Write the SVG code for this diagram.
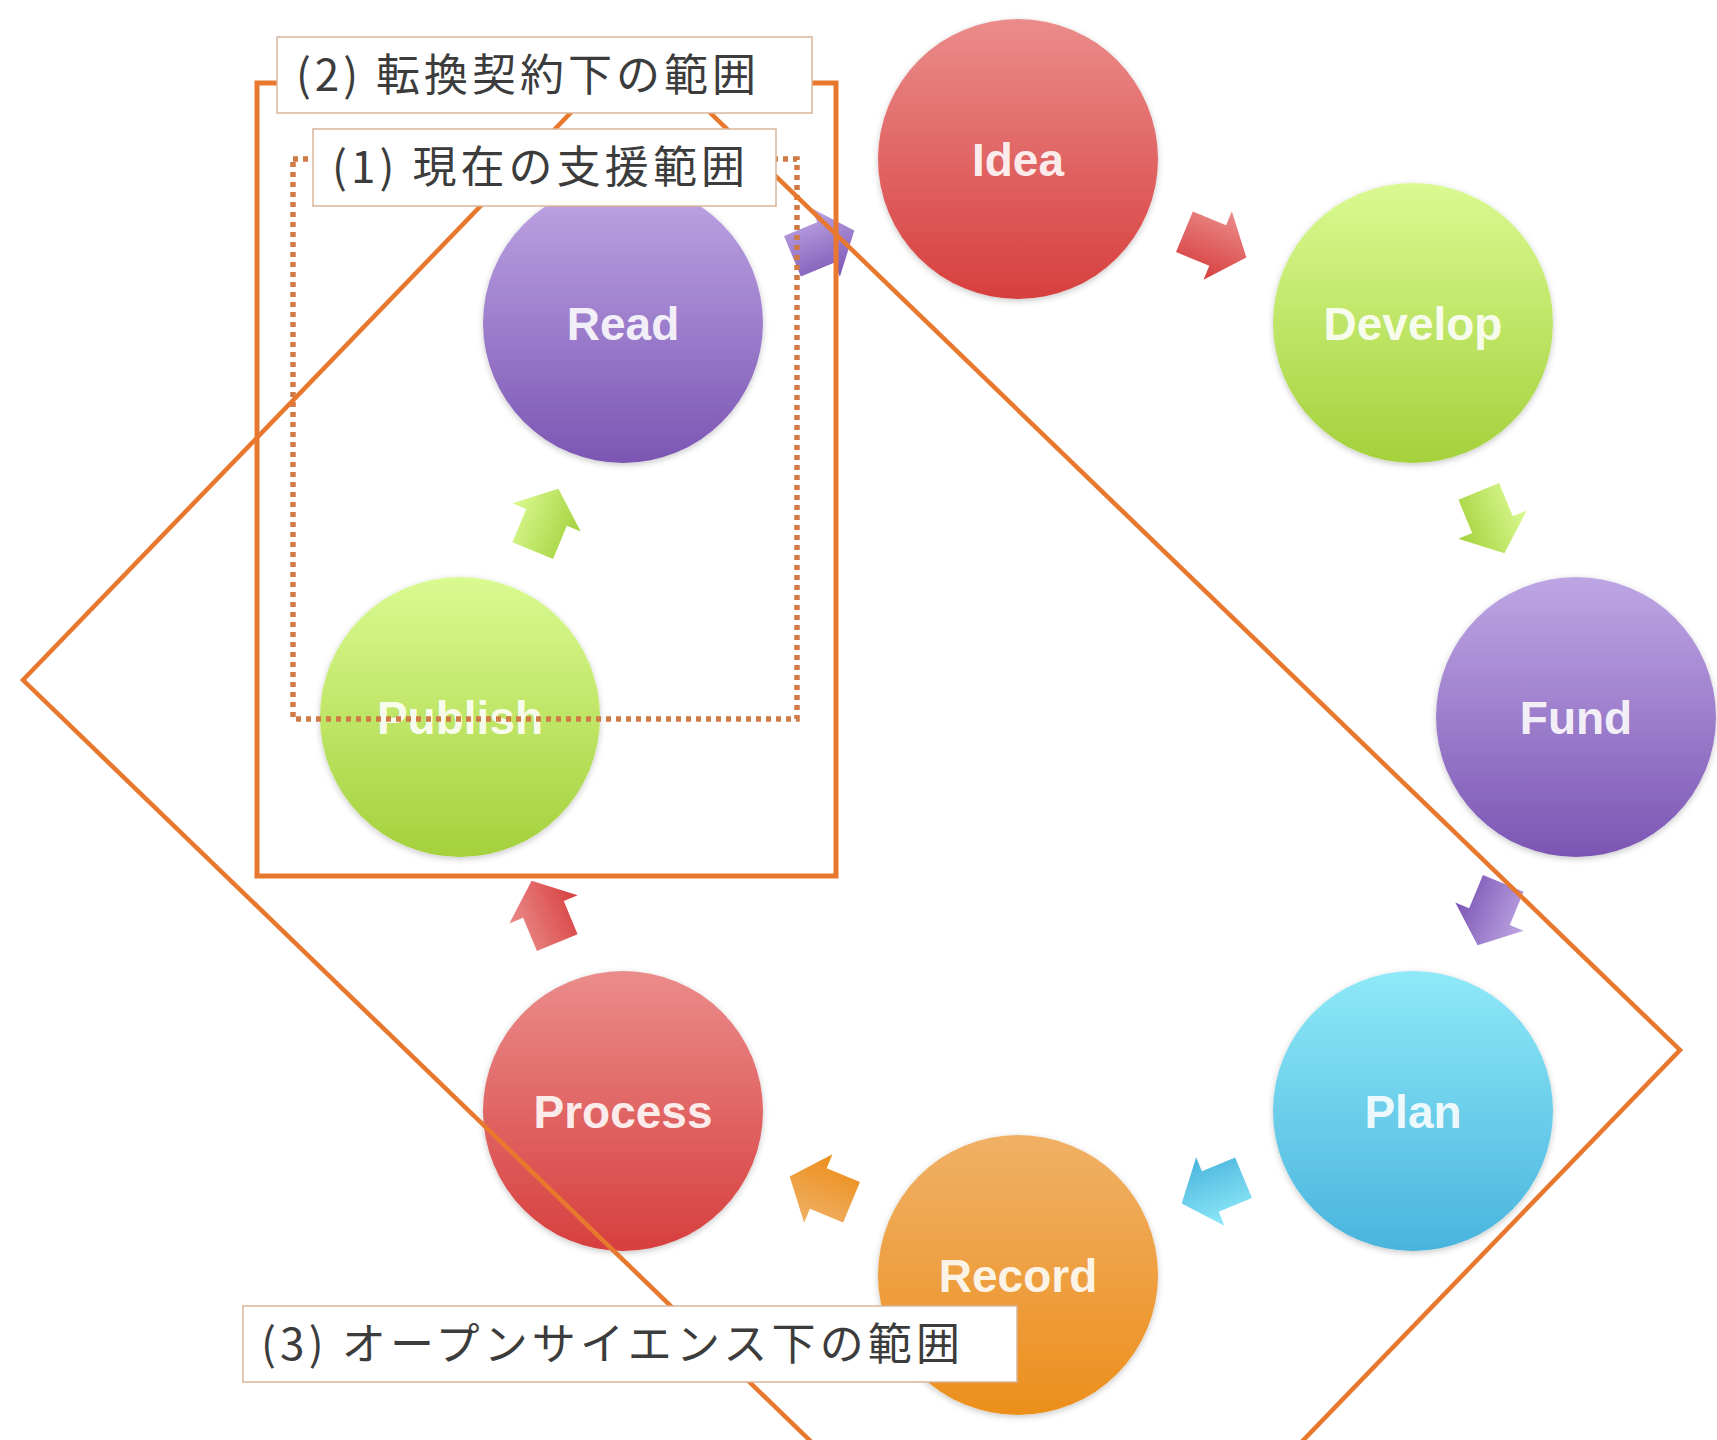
<svg xmlns="http://www.w3.org/2000/svg" width="1717" height="1440" viewBox="0 0 1717 1440">
<style>
.ntext{font-family:"Liberation Sans",Arial,sans-serif;font-weight:bold;font-size:46px;fill:#ffffff;fill-opacity:0.9;text-anchor:middle}
.lbox{fill:#ffffff;stroke:#D9B59A;stroke-width:1.5}
.ltext{font-family:"Noto Sans CJK JP","Noto Sans",sans-serif;font-size:44px;fill:#3c3c3c}
.frame{fill:none;stroke:#E8782E;stroke-width:5}
.diamond{fill:none;stroke:#E8782E;stroke-width:4.5;stroke-linejoin:miter}
.dotted{fill:none;stroke:#D07A46;stroke-width:5.5;stroke-dasharray:5 5}
.circ{filter:url(#sh)}
</style>
<defs>
<filter id="sh" x="-20%" y="-20%" width="140%" height="140%">
<feDropShadow dx="0" dy="2" stdDeviation="3" flood-color="#000" flood-opacity="0.22"/>
</filter>
<linearGradient id="gRed" x1="0" y1="0" x2="0" y2="1"><stop offset="0" stop-color="#EA8C8B"/><stop offset="1" stop-color="#D73F3E"/></linearGradient>
<linearGradient id="gGreen" x1="0" y1="0" x2="0" y2="1"><stop offset="0" stop-color="#DAFA92"/><stop offset="1" stop-color="#A4D13C"/></linearGradient>
<linearGradient id="gPurple" x1="0" y1="0" x2="0" y2="1"><stop offset="0" stop-color="#BEA6E4"/><stop offset="1" stop-color="#7C56B4"/></linearGradient>
<linearGradient id="gBlue" x1="0" y1="0" x2="0" y2="1"><stop offset="0" stop-color="#8FE9F8"/><stop offset="1" stop-color="#49B4DD"/></linearGradient>
<linearGradient id="gOrange" x1="0" y1="0" x2="0" y2="1"><stop offset="0" stop-color="#F0B066"/><stop offset="1" stop-color="#EC8F1C"/></linearGradient>
<path id="arw" d="M-32,-22 H4 V-37 L35,0 L4,37 V22 H-32 Z"/>
</defs>
<rect x="0" y="0" width="1717" height="1440" fill="#ffffff"/>

<g id="node-idea"><circle class="circ" cx="1018" cy="159" r="140" fill="url(#gRed)"/><text class="ntext" x="1018" y="176">Idea</text></g>
<g id="node-develop"><circle class="circ" cx="1413" cy="323" r="140" fill="url(#gGreen)"/><text class="ntext" x="1413" y="340">Develop</text></g>
<g id="node-fund"><circle class="circ" cx="1576" cy="717" r="140" fill="url(#gPurple)"/><text class="ntext" x="1576" y="734">Fund</text></g>
<g id="node-plan"><circle class="circ" cx="1413" cy="1111" r="140" fill="url(#gBlue)"/><text class="ntext" x="1413" y="1128">Plan</text></g>
<g id="node-record"><circle class="circ" cx="1018" cy="1275" r="140" fill="url(#gOrange)"/><text class="ntext" x="1018" y="1292">Record</text></g>
<g id="node-process"><circle class="circ" cx="623" cy="1111" r="140" fill="url(#gRed)"/><text class="ntext" x="623" y="1128">Process</text></g>
<g id="node-publish"><circle class="circ" cx="460" cy="717" r="140" fill="url(#gGreen)"/><text class="ntext" x="460" y="734">Publish</text></g>
<g id="node-read"><circle class="circ" cx="623" cy="323" r="140" fill="url(#gPurple)"/><text class="ntext" x="623" y="340">Read</text></g>

<g id="connectors">
<use href="#arw" fill="url(#gRed)" transform="translate(1214,244) rotate(22.5)"/>
<use href="#arw" fill="url(#gGreen)" transform="translate(1491,521) rotate(67.5)"/>
<use href="#arw" fill="url(#gPurple)" transform="translate(1491,913) rotate(112.5)"/>
<use href="#arw" fill="url(#gBlue)" transform="translate(1214,1190) rotate(157.5)"/>
<use href="#arw" fill="url(#gOrange)" transform="translate(822,1190) rotate(202.5)"/>
<use href="#arw" fill="url(#gRed)" transform="translate(545,913) rotate(247.5)"/>
<use href="#arw" fill="url(#gGreen)" transform="translate(545,521) rotate(292.5)"/>
<use href="#arw" fill="url(#gPurple)" transform="translate(822,244) rotate(337.5)"/>
</g>

<g id="scope-1"><rect class="dotted" x="293" y="159" width="504" height="560"/></g>
<g id="scope-2"><rect class="frame" x="257" y="83" width="579" height="793"/></g>
<g id="scope-3"><polygon class="diamond" points="23,680 638,43 1680,1050 1065,1687"/></g>

<g id="label-2"><rect class="lbox" x="277" y="37" width="535" height="76"/><text class="ltext" x="296" y="91" textLength="460" lengthAdjust="spacing">(2) 転換契約下の範囲</text></g>
<g id="label-1"><rect class="lbox" x="313" y="129" width="463" height="77"/><text class="ltext" x="332" y="183" textLength="413" lengthAdjust="spacing">(1) 現在の支援範囲</text></g>
<g id="label-3"><rect class="lbox" x="243" y="1306" width="774" height="76"/><text class="ltext" x="261" y="1360" textLength="699" lengthAdjust="spacing">(3) オープンサイエンス下の範囲</text></g>
</svg>
